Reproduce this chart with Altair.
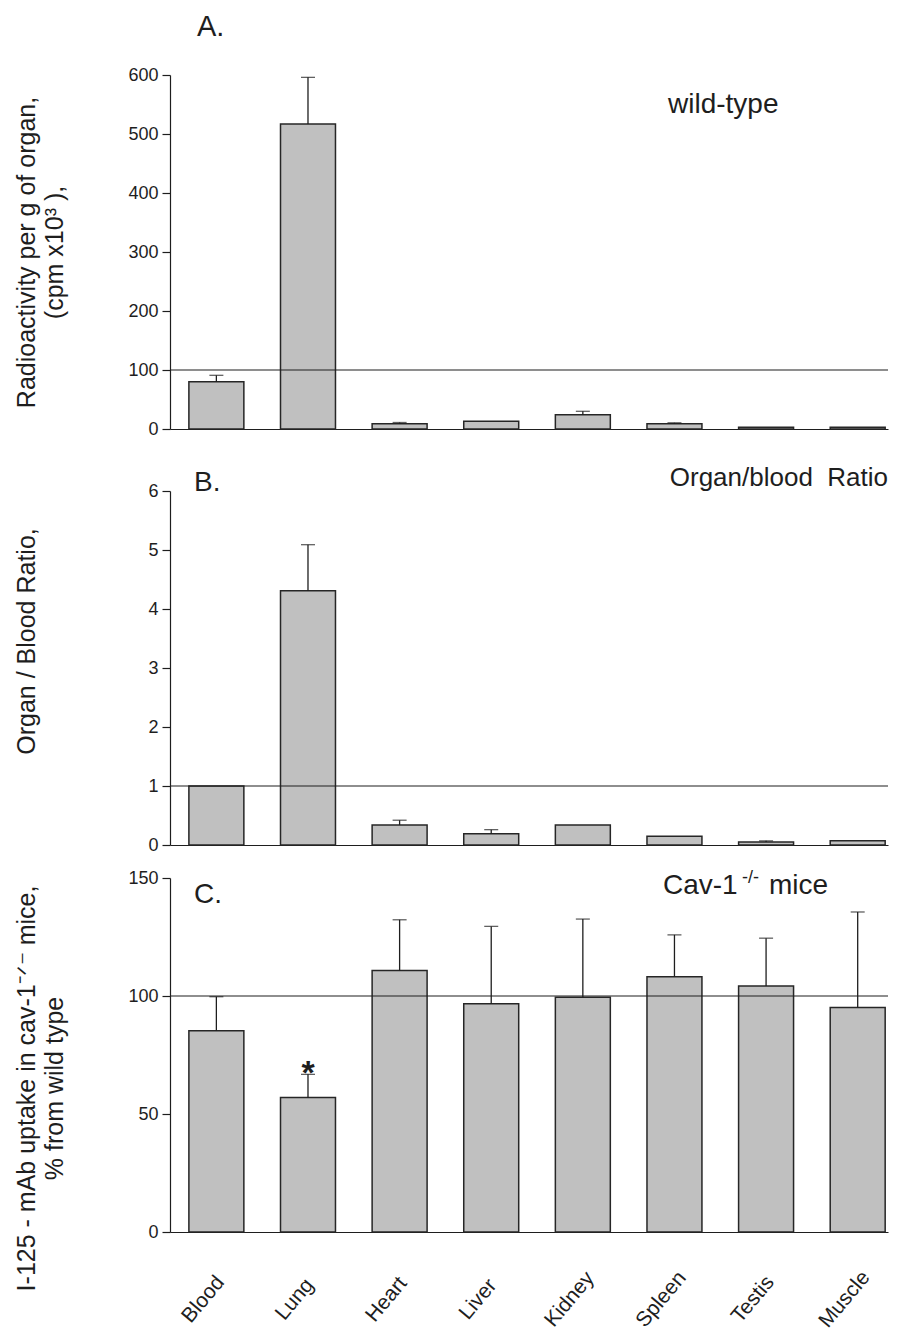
import altair as alt
import pandas as pd

organs = ["Blood", "Lung", "Heart", "Liver", "Kidney", "Spleen", "Testis", "Muscle"]

# Panel A: wild-type radioactivity per g of organ (cpm x10^3)
wt_mean = [80, 517, 9, 13, 24, 9, 3, 3]
wt_sd = [11, 79, 2, 0, 6, 1.5, 0, 0]

# Panel B: organ / blood ratio
ratio_mean = [1.0, 4.31, 0.34, 0.19, 0.34, 0.15, 0.05, 0.07]
ratio_sd = [0, 0.78, 0.08, 0.07, 0, 0, 0.02, 0]

# Panel C: uptake in cav-1 -/- mice, % of wild type
ko_mean = [85.3, 57.0, 110.8, 96.7, 99.5, 108.2, 104.2, 95.1]
ko_sd = [14.4, 9.8, 21.5, 32.8, 33.1, 17.7, 20.3, 40.5]
ko_sig = ["", "*", "", "", "", "", "", ""]
no_sig = [""] * 8

ref_values = [100, 1, 100]
y_max = [600, 6, 150]
y_ticks = [[0, 100, 200, 300, 400, 500, 600], [0, 1, 2, 3, 4, 5, 6], [0, 50, 100, 150]]
y_titles = [
    ["Radioactivity per g of organ,", "(cpm x10\u00b3 ),"],
    ["Organ / Blood Ratio,"],
    ["I-125 - mAb uptake in cav-1\u207b\u141f\u207b mice,", "% from wild type"],
]
panel_letters = ["A.", "B.", "C."]
notes = ["wild-type", "Organ/blood\u00a0 Ratio", "Cav-1", "-/-", "mice"]

W, H = 718, 354
FONT = "Liberation Sans"
INK = "#1e1e1e"
BAR_FILL = "#c0c0c0"

xscale = alt.Scale(domain=organs, paddingInner=0.4, paddingOuter=0.1185, align=0.87)


def text_layer(txt, x, y, size, align="left", weight="normal"):
    return alt.Chart(pd.DataFrame({"t": [txt]})).mark_text(
        align=align, baseline="alphabetic", fontSize=size, font=FONT,
        color=INK, fontWeight=weight
    ).encode(text="t:N", x=alt.value(x), y=alt.value(y))


def panel(mean, sd, sig, ymax, yvals, ytitle, ref, title_y, xaxis, extra):
    df = pd.DataFrame({"organ": organs, "mean": mean, "sd": sd, "sig": sig})
    df["top"] = df["mean"] + df["sd"]
    yscale = alt.Scale(domain=[0, ymax], nice=False, zero=True)
    yaxis = alt.Axis(
        values=yvals, grid=False, tickSize=8, tickColor=INK, tickWidth=1.2,
        domainColor=INK, domainWidth=1.2, labelFont=FONT, labelFontSize=18,
        labelColor=INK, labelPadding=4, title=ytitle, titleFont=FONT,
        titleFontSize=25, titleFontWeight="normal", titleColor=INK,
        titleX=-156, titleY=title_y, titleBaseline="top", titleLineHeight=28,
    )
    X = alt.X("organ:N", scale=xscale, axis=xaxis)
    base = alt.Chart(df)
    bars = base.mark_bar(fill=BAR_FILL, stroke="#262626", strokeWidth=1.5).encode(
        x=X, y=alt.Y("mean:Q", scale=yscale, axis=yaxis)
    )
    rule = alt.Chart(pd.DataFrame({"ref": [ref]})).mark_rule(
        color=INK, strokeWidth=1.2
    ).encode(y=alt.Y("ref:Q", scale=yscale, axis=yaxis))
    err = base.transform_filter("datum.sd > 0").mark_rule(
        color=INK, strokeWidth=1.3
    ).encode(x=X, y=alt.Y("mean:Q", scale=yscale, axis=yaxis), y2="top:Q")
    caps = base.transform_filter("datum.sd > 0").mark_tick(
        color=INK, thickness=1.3, size=14, orient="horizontal"
    ).encode(x=X, y=alt.Y("top:Q", scale=yscale, axis=yaxis))
    star = base.transform_filter("datum.sig != ''").mark_text(
        font=FONT, fontSize=34, fontWeight="bold", color=INK,
        baseline="alphabetic", dy=10
    ).encode(x=X, y=alt.Y("top:Q", scale=yscale, axis=yaxis), text="sig:N")
    return alt.layer(bars, rule, err, caps, star, *extra).properties(width=W, height=H)


xaxis_a = alt.Axis(labels=False, ticks=False, title=None, domainColor=INK,
                   domainWidth=1.2, minExtent=21)
xaxis_b = alt.Axis(labels=False, ticks=False, title=None, domainColor=INK,
                   domainWidth=1.2, minExtent=0)
xaxis_c = alt.Axis(labelAngle=-50, labelAlign="center", labelBaseline="middle",
                   labelOffset=-13, labelPadding=67, ticks=False, title=None,
                   labelFont=FONT, labelFontSize=21, labelColor=INK,
                   domainColor=INK, domainWidth=1.2)

pa = panel(wt_mean, wt_sd, no_sig, y_max[0], y_ticks[0], y_titles[0], ref_values[0], 177,
           xaxis_a,
           [text_layer(panel_letters[0], 27, -39, 29),
            text_layer(notes[0], 498, 38, 28)])
pb = panel(ratio_mean, ratio_sd, no_sig, y_max[1], y_ticks[1], y_titles[1], ref_values[1], 150,
           xaxis_b,
           [text_layer(panel_letters[1], 24, 0, 28),
            text_layer(notes[1], 718, -5, 26, align="right")])
pc = panel(ko_mean, ko_sd, ko_sig, y_max[2], y_ticks[2], y_titles[2], ref_values[2], 210,
           xaxis_c,
           [text_layer(panel_letters[2], 24, 25, 28),
            text_layer(notes[2], 493, 16, 28),
            text_layer(notes[3], 572, 5, 18),
            text_layer(notes[4], 599, 16, 28)])

chart = alt.vconcat(pa, pb, pc, spacing=15).properties(
    padding={"left": 5, "top": 5, "right": 0, "bottom": 0},
    background="white",
).configure_view(stroke=None)

chart.save("out.html", embed_options={"renderer": "svg", "actions": False})
